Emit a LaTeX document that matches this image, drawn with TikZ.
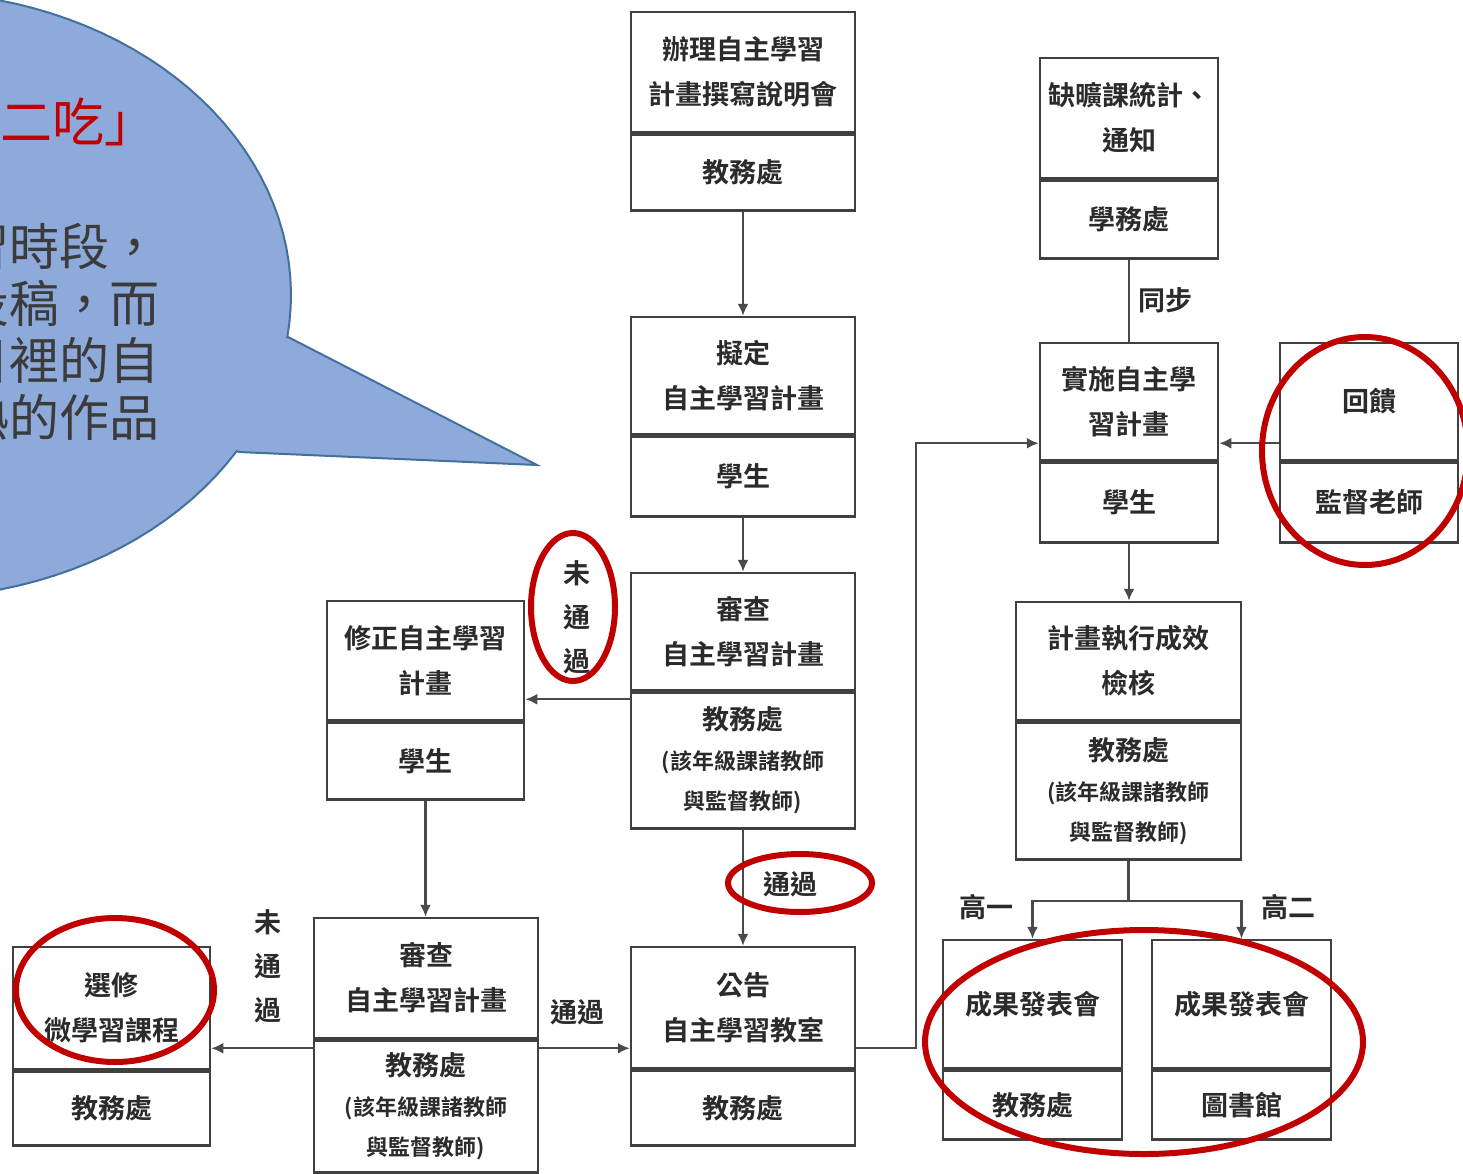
\documentclass[tikz,border=0pt]{standalone}
\usepackage{fontspec}
\setmainfont{Noto Sans CJK TC}
\newfontfamily\boxfont{Noto Sans CJK TC Bold}
\usetikzlibrary{arrows.meta}
\definecolor{boxgray}{HTML}{404040}
\definecolor{linegray}{HTML}{4A4A4A}
\definecolor{inkgray}{HTML}{2B2B2B}
\definecolor{ringred}{HTML}{C00000}
\definecolor{bubblefill}{HTML}{8EAADB}
\definecolor{bubbleedge}{HTML}{41719C}
\definecolor{bubbletext}{HTML}{3B3B3B}
\newcommand\smallline[1]{{\fontsize{22pt}{40pt}\selectfont #1}}

\begin{document}
\begin{tikzpicture}[x=1pt, y=-1pt,
	upbox/.style={draw=boxgray, line width=2.5pt, fill=white, text=inkgray, align=center, inner sep=0pt, font=\boxfont\fontsize{27pt}{45pt}\selectfont},
	tallbox/.style={upbox, font=\boxfont\fontsize{27pt}{40pt}\selectfont},
	flow/.style={draw=linegray, line width=2.2pt, -{Latex[length=12pt,width=11pt]}},
	link/.style={draw=linegray, line width=2.2pt},
	tag/.style={text=inkgray, align=center, inner sep=0pt, font=\boxfont\fontsize{27pt}{44pt}\selectfont},
	redring/.style={draw=ringred, line width=6pt},
	bubble/.style={fill=bubblefill, draw=bubbleedge, line width=2pt}]
	\useasboundingbox (0,0) rectangle (1463,1173);
	\clip (0,0) rectangle (1463,1173);

	\draw[bubble] (288,337) -- (537,465) -- (239,452)
		-- plot[domain=31:368, samples=120] ({-89+380*cos(\x)}, {295+303*sin(\x)}) -- cycle;
	\node[anchor=west, text=ringred, inner sep=0pt, font=\fontsize{52pt}{52pt}\selectfont] (eat) at (0,122) {二吃」};
	\node[anchor=east, align=right, text=bubbletext, inner sep=0pt, font=\fontsize{50pt}{57pt}\selectfont] (story) at (160,332) {習時段，\\投稿，而\\目裡的自\\熟的作品};

	\node[upbox, minimum width=224pt, minimum height=120pt] (brief) at (743,72) {辦理自主學習\\計畫撰寫說明會};
	\node[upbox, minimum width=224pt, minimum height=76pt, anchor=north] (brief-dept) at (brief.south) {教務處};
	\node[upbox, minimum width=224pt, minimum height=117pt] (draft) at (743,375.5) {擬定\\自主學習計畫};
	\node[upbox, minimum width=224pt, minimum height=80pt, anchor=north] (draft-dept) at (draft.south) {學生};
	\node[upbox, minimum width=224pt, minimum height=117pt] (review) at (743,631.5) {審查\\自主學習計畫};
	\node[tallbox, minimum width=224pt, minimum height=136pt, anchor=north] (review-dept) at (review.south) {教務處\\\smallline{(該年級課諸教師}\\\smallline{與監督教師)}};
	\node[upbox, minimum width=197pt, minimum height=119pt] (revise) at (425.5,660.5) {修正自主學習\\計畫};
	\node[upbox, minimum width=197pt, minimum height=77pt, anchor=north] (revise-dept) at (revise.south) {學生};
	\node[upbox, minimum width=224pt, minimum height=120pt] (rereview) at (426,978) {審查\\自主學習計畫};
	\node[tallbox, minimum width=224pt, minimum height=132pt, anchor=north] (rereview-dept) at (rereview.south) {教務處\\\smallline{(該年級課諸教師}\\\smallline{與監督教師)}};
	\node[upbox, minimum width=197pt, minimum height=122pt] (micro) at (111.5,1008) {選修\\微學習課程};
	\node[upbox, minimum width=197pt, minimum height=74pt, anchor=north] (micro-dept) at (micro.south) {教務處};
	\node[upbox, minimum width=224pt, minimum height=121pt] (notice) at (743,1007.5) {公告\\自主學習教室};
	\node[upbox, minimum width=224pt, minimum height=75pt, anchor=north] (notice-dept) at (notice.south) {教務處};
	\node[upbox, minimum width=178pt, minimum height=120pt] (absence) at (1129,118) {缺曠課統計、\\通知};
	\node[upbox, minimum width=178pt, minimum height=78pt, anchor=north] (absence-dept) at (absence.south) {學務處};
	\node[upbox, minimum width=178pt, minimum height=117pt] (implement) at (1129,401.5) {實施自主學\\習計畫};
	\node[upbox, minimum width=178pt, minimum height=80pt, anchor=north] (implement-dept) at (implement.south) {學生};
	\node[upbox, minimum width=178pt, minimum height=117pt] (feedback) at (1369,401.5) {回饋};
	\node[upbox, minimum width=178pt, minimum height=80pt, anchor=north] (feedback-dept) at (feedback.south) {監督老師};
	\node[upbox, minimum width=225pt, minimum height=118pt] (check) at (1128.5,661) {計畫執行成效\\檢核};
	\node[tallbox, minimum width=225pt, minimum height=137pt, anchor=north] (check-dept) at (check.south) {教務處\\\smallline{(該年級課諸教師}\\\smallline{與監督教師)}};
	\node[upbox, minimum width=179pt, minimum height=128pt] (showA) at (1032.5,1004) {成果發表會};
	\node[upbox, minimum width=179pt, minimum height=69pt, anchor=north] (showA-dept) at (showA.south) {教務處};
	\node[upbox, minimum width=179pt, minimum height=128pt] (showB) at (1241.5,1004) {成果發表會};
	\node[upbox, minimum width=179pt, minimum height=69pt, anchor=north] (showB-dept) at (showB.south) {圖書館};

	\node[tag] (fail1) at (577,617) {未\\通\\過};
	\node[tag] (fail2) at (268,966) {未\\通\\過};
	\node[tag] (pass1) at (790,884) {通過};
	\node[tag] (pass2) at (577,1012) {通過};
	\node[tag] (sync) at (1165,300) {同步};
	\node[tag] (grade1) at (986,907) {高一};
	\node[tag] (grade2) at (1288,907) {高二};

	\coordinate (fail1-start) at ([yshift=-8pt]review-dept.north west);
	\coordinate (fail2-start) at ([yshift=-9pt]rereview-dept.north west);
	\coordinate (pass2-start) at ([yshift=-9pt]rereview-dept.north east);
	\coordinate (go-right) at ([yshift=21pt]notice-dept.north east);
	\coordinate (impl-in) at ([yshift=18pt]implement.south west);
	\coordinate (fb-in) at ([yshift=18pt]implement.south east);
	\coordinate (split) at ([yshift=-40pt]check-dept.south);

	\draw[flow] (brief-dept) -- (draft);
	\draw[flow] (draft-dept) -- (review);
	\draw[flow] (fail1-start) -- (fail1-start -| revise.east);
	\draw[flow] (review-dept) -- (notice);
	\draw[flow] (revise-dept.south) -- (revise-dept.south |- rereview.north);
	\draw[flow] (fail2-start) -- (fail2-start -| micro.east);
	\draw[flow] (pass2-start) -- (pass2-start -| notice.west);
	\draw[flow] (go-right) -- ++(60,0) |- (impl-in);
	\draw[link] (absence-dept) -- (implement);
	\draw[flow] (fb-in -| feedback.west) -- (fb-in);
	\draw[flow] (implement-dept.south) -- (implement-dept.south |- check.north);
	\draw[link] (check-dept.south) -- (split);
	\draw[flow] (split) -| (showA.north);
	\draw[flow] (split) -| (showB.north);

	\draw[redring] (1365,451) ellipse [x radius=103pt, y radius=114pt];
	\draw[redring] (573,607) ellipse [x radius=42pt, y radius=74pt];
	\draw[redring] (800,883) ellipse [x radius=72pt, y radius=29pt];
	\draw[redring] (115,990) ellipse [x radius=99pt, y radius=72pt];
	\draw[redring] (1144,1042) ellipse [x radius=219pt, y radius=112pt];
\end{tikzpicture}
\end{document}
